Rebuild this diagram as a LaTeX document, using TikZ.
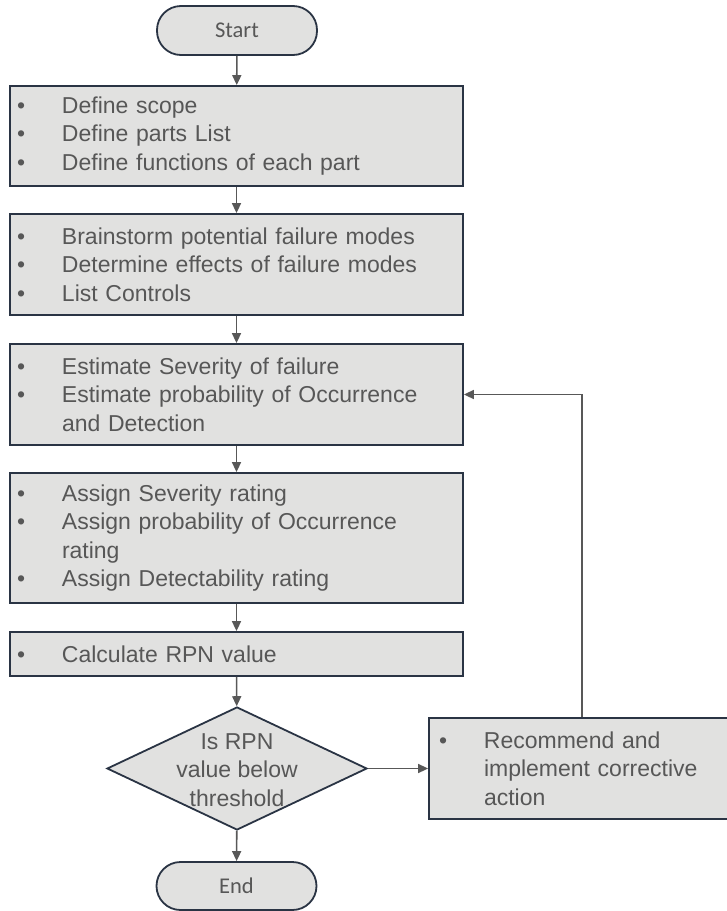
\documentclass[tikz,border=0pt]{standalone}
\usepackage{fontspec}
\setmainfont{Liberation Sans}
\newfontfamily\termfont{Carlito}
\usetikzlibrary{arrows.meta,shapes.geometric}

\definecolor{boxfill}{HTML}{E1E1E0}
\definecolor{boxline}{HTML}{2A3444}
\definecolor{txtgray}{HTML}{575757}
\definecolor{arrgray}{HTML}{585858}

% one bulleted item, and a continuation line under it
\newcommand{\itm}[1]{\makebox[45pt][l]{\textbullet}#1}
\newcommand{\cnt}[1]{\hspace*{45pt}#1}

\tikzset{
  stepbox/.style={draw=boxline, line width=1.8pt, fill=boxfill, rectangle,
    minimum width=453pt, text width=439pt, inner xsep=7pt, inner ysep=2pt,
    align=left, text=txtgray, font=\fontsize{23}{28.5}\selectfont},
  terminal/.style={draw=boxline, line width=1.8pt, fill=boxfill, rectangle,
    rounded corners=24pt, minimum width=160pt, text=txtgray,
    font=\termfont\fontsize{22.5}{24}\selectfont},
  decision/.style={draw=boxline, line width=1.8pt, fill=boxfill, diamond,
    minimum width=260pt, minimum height=123pt, inner sep=0pt},
  dectext/.style={align=center, text=txtgray, inner sep=0pt,
    font=\fontsize{23}{28.5}\selectfont},
  arr/.style={draw=arrgray, line width=1.6pt,
    -{Triangle[length=10pt,width=9pt]}}
}

\begin{document}
\begin{tikzpicture}[x=1pt,y=-1pt]
\useasboundingbox (0,0) rectangle (727,911);

\node[terminal, minimum height=49pt] (start) at (237,30.5) {Start};

\node[stepbox, minimum height=100pt] (scope) at (236.5,136)
  {\itm{Define scope}\\
   \itm{Define parts List}\\
   \itm{Define functions of each part}};

\node[stepbox, minimum height=101pt] (modes) at (236.5,264.5)
  {\itm{Brainstorm potential failure modes}\\
   \itm{Determine effects of failure modes}\\
   \itm{List Controls}};

\node[stepbox, minimum height=101pt] (estimate) at (236.5,394.5)
  {\itm{Estimate Severity of failure}\\
   \itm{Estimate probability of Occurrence}\\
   \cnt{and Detection}};

\node[stepbox, minimum height=130pt] (assign) at (236.5,538)
  {\itm{Assign Severity rating}\\
   \itm{Assign probability of Occurrence}\\
   \cnt{rating}\\
   \itm{Assign Detectability rating}};

\node[stepbox, minimum height=44pt] (rpn) at (236.5,654)
  {\itm{Calculate RPN value}};

\node[decision] (dec) at (237,768.5) {};
\node[dectext] (dectxt) at (237,770) {Is RPN\\value below\\threshold};

\node[stepbox, minimum width=311pt, text width=291pt, inner xsep=10pt,
  minimum height=101pt] (fix) at (584.5,768.5)
  {\itm{Recommend and}\\
   \cnt{implement corrective}\\
   \cnt{action}};

\node[terminal, minimum height=48pt] (end) at (236.5,886) {End};

% main flow
\draw[arr] (start) -- (scope);
\draw[arr] (scope) -- (modes);
\draw[arr] (modes) -- (estimate);
\draw[arr] (estimate) -- (assign);
\draw[arr] (assign) -- (rpn);
\draw[arr] (rpn) -- (dec);
\draw[arr] (dec) -- (end);
\draw[arr] (dec) -- (fix);

% loop back for corrective action
\coordinate (loopx) at (582,0);
\draw[arr] (fix.north -| loopx) |- (estimate.east);
\end{tikzpicture}
\end{document}
